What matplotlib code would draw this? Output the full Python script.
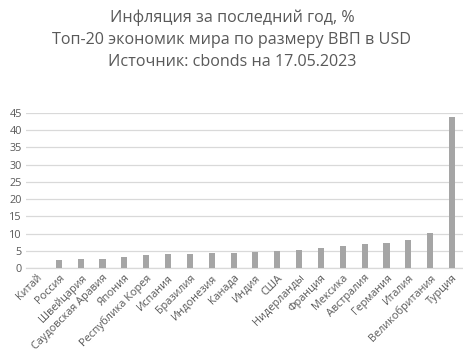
import matplotlib
matplotlib.use("Agg")
import matplotlib.pyplot as plt

countries = ["Китай", "Россия", "Швейцария", "Саудовская Аравия", "Япония",
             "Республика Корея", "Испания", "Бразилия", "Индонезия", "Канада",
             "Индия", "США", "Нидерланды", "Франция", "Мексика", "Австралия",
             "Германия", "Италия", "Великобритания", "Турция"]
inflation = [0.1, 2.3, 2.6, 2.6, 3.4, 3.9, 4.1, 4.2, 4.4, 4.4,
             4.7, 4.9, 5.2, 5.9, 6.4, 7.0, 7.3, 8.2, 10.1, 43.7]
yticks = [0, 5, 10, 15, 20, 25, 30, 35, 40, 45]

plt.rcParams['font.family'] = ['Open Sans', 'DejaVu Sans']
txt = '#595959'

fig = plt.figure(figsize=(4.64, 3.56), dpi=100)
ax = fig.add_axes([26/464, 1-268.3/356, (463-26)/464, (268.3-112.7)/356])
x = list(range(len(countries)))
ax.bar(x, inflation, width=0.28, color='#a5a5a5', zorder=3)
ax.set_ylim(0, 45)
ax.set_xlim(-0.5, len(countries)-0.5)
ax.set_yticks(yticks)
ax.set_yticklabels([str(v) for v in yticks], fontsize=7.8, color=txt)
ax.set_xticks(x)
ax.set_xticklabels(countries, rotation=45, ha='right', rotation_mode='anchor',
                   fontsize=7.8, color=txt)
ax.tick_params(axis='both', length=0, pad=3)
ax.grid(axis='y', color='#d9d9d9', linewidth=0.9, zorder=0)
for s in ['top', 'right', 'left']:
    ax.spines[s].set_visible(False)
ax.spines['bottom'].set_color('#d9d9d9')
ax.spines['bottom'].set_linewidth(0.9)

fig.text(0.5, 1-18/356, "Инфляция за последний год, %", ha='center', va='center',
         fontsize=11.6, color=txt)
fig.text(0.5, 1-40/356, "Топ-20 экономик мира по размеру ВВП в USD", ha='center',
         va='center', fontsize=11.6, color=txt)
fig.text(0.5, 1-62/356, "Источник: cbonds на 17.05.2023", ha='center', va='center',
         fontsize=11.6, color=txt)

fig.savefig("out.png", dpi=100, facecolor='white')
